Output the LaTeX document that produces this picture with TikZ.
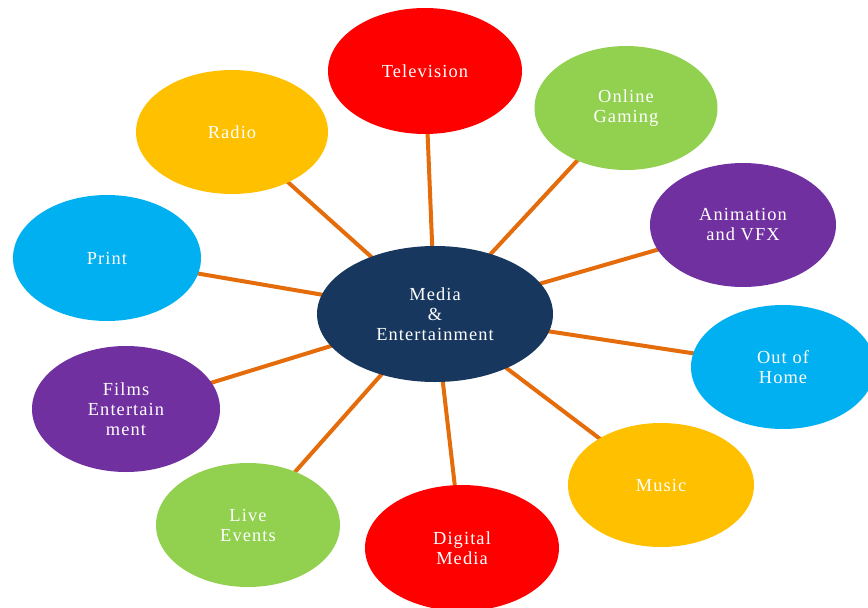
\documentclass[tikz,border=0pt]{standalone}
\usepackage{fontspec}
\setmainfont{Liberation Serif}[LetterSpace=6]
\usetikzlibrary{shapes.geometric,backgrounds}
\definecolor{hubblue}{HTML}{17375E}
\definecolor{mred}{HTML}{FF0000}
\definecolor{mgreen}{HTML}{92D050}
\definecolor{mamber}{HTML}{FFC000}
\definecolor{mpurple}{HTML}{7030A0}
\definecolor{mcyan}{HTML}{00B0F0}
\definecolor{spokeorange}{HTML}{E46C0A}
\tikzset{
  bubble/.style={ellipse, draw=none, inner sep=0pt, text=white, align=center,
    font=\fontsize{18.4}{20}\selectfont, minimum width=186, minimum height=124},
  spoke/.style={draw=spokeorange, line width=4pt},
}
\begin{document}
\begin{tikzpicture}[x=1pt,y=-1pt]
\useasboundingbox (0,0) rectangle (868,608);
\clip (0,0) rectangle (868,608);
% hub
\node[bubble, fill=hubblue, minimum width=236, minimum height=136] (hub) at (435,314) {Media\\\&\\Entertainment};
% satellites
\node[bubble, fill=mred, minimum width=194, minimum height=126] (tv) at (425,71) {Television};
\node[bubble, fill=mgreen, minimum width=183] (gaming) at (626,108) {Online\\Gaming};
\node[bubble, fill=mamber, minimum width=192] (radio) at (232,132) {Radio};
\node[bubble, fill=mpurple] (vfx) at (743,225) {Animation\\and VFX};
\node[bubble, fill=mcyan, minimum width=188, minimum height=126] (print) at (107,258) {Print};
\node[bubble, fill=mcyan, minimum width=184] (ooh) at (783,367) {Out of\\Home};
\node[bubble, fill=mpurple, minimum width=188, minimum height=126] (films) at (126,409) {Films\\Entertain\\ment};
\node[bubble, fill=mgreen, minimum width=184] (live) at (248,525) {Live\\Events};
\node[bubble, fill=mred, minimum width=194, minimum height=126] (digital) at (462,548) {Digital\\Media};
\node[bubble, fill=mamber] (music) at (661,485) {Music};
% connectors behind the bubbles
\begin{pgfonlayer}{background}
\foreach \n in {tv,gaming,radio,vfx,print,ooh,films,live,digital,music}
  \draw[spoke] (hub.center) -- (\n.center);
\end{pgfonlayer}
\end{tikzpicture}
\end{document}
